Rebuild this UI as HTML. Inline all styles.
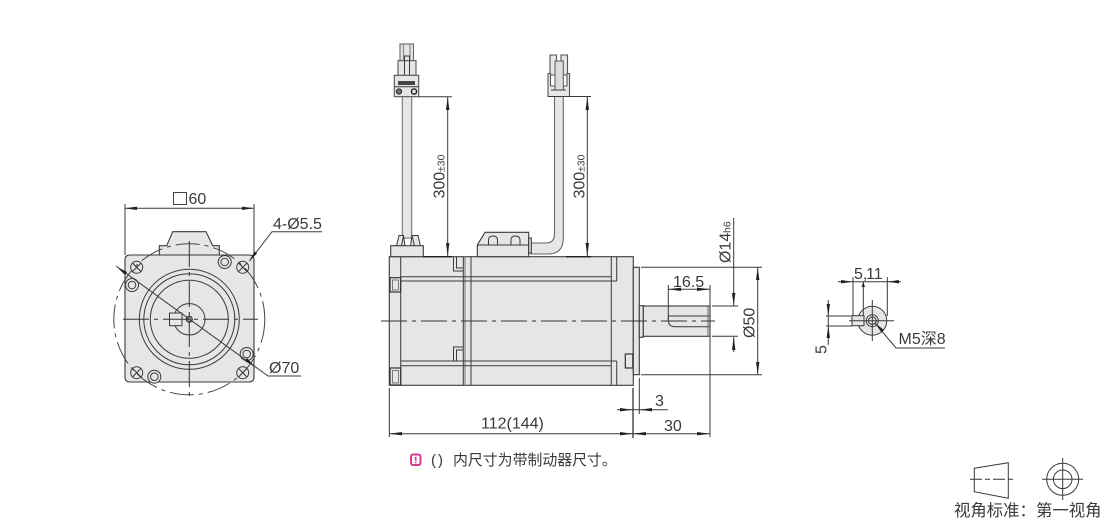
<!DOCTYPE html>
<html>
<head>
<meta charset="utf-8">
<style>
html,body{margin:0;padding:0;background:#fff;width:1110px;height:520px;overflow:hidden}
svg{display:block}
text{font-family:"Liberation Sans","Noto Sans CJK SC",sans-serif;fill:#3a3a3a;font-size:16px}
.l{stroke:#3a3a3a;stroke-width:1;fill:none}
.t{stroke:#333;stroke-width:1.2;fill:none}
.f{stroke:#3a3a3a;stroke-width:1.1;fill:#e6e6e6}
.g{stroke:#888;stroke-width:1.2;fill:none}
.c{stroke:#333;stroke-width:1;fill:none;stroke-dasharray:26 5 4 5}
.a{fill:#222;stroke:none}
.s{font-size:10.5px}
</style>
</head>
<body>
<svg width="1110" height="520" viewBox="0 0 1110 520" xmlns="http://www.w3.org/2000/svg">
<!-- FRONT VIEW -->
<path class="f" d="M159.3 256V245.7H166.7L172.7 231.7H206L212.7 245.7H219.3V256"/>
<path class="f" d="M130 255H249Q254 255 254 260V377Q254 382 249 382H130Q125 382 125 377V260Q125 255 130 255Z"/>
<circle class="l" cx="189.3" cy="319.3" r="50"/>
<circle class="l" cx="189.3" cy="319.3" r="45.5"/>
<circle class="l" cx="189.3" cy="319.3" r="39"/>
<circle class="l" cx="189.3" cy="319.3" r="15.7"/>
<rect x="169.5" y="313" width="12.5" height="12.7" fill="#e6e6e6" stroke="#3a3a3a"/>
<circle cx="189.3" cy="319.3" r="3" fill="#999" stroke="#222" stroke-width="1"/>
<circle cx="189.3" cy="319.3" r="75.5" fill="none" stroke="#444" stroke-width="1" stroke-dasharray="24 5 4 5"/>
<g class="l">
<circle cx="136.7" cy="267.3" r="6"/><path d="M132.5 263L141 271.6M141 263L132.5 271.6"/>
<circle cx="242.7" cy="267.3" r="6"/><path d="M238.5 263L247 271.6M247 263L238.5 271.6"/>
<circle cx="136.7" cy="372.7" r="6"/><path d="M132.5 368.4L141 377M141 368.4L132.5 377"/>
<circle cx="242.7" cy="372.7" r="6"/><path d="M238.5 368.4L247 377M247 368.4L238.5 377"/>
</g>
<g fill="#e6e6e6" stroke="#3a3a3a">
<circle cx="224.7" cy="262" r="6.5"/><circle cx="224.7" cy="262" r="3.8"/>
<circle cx="132" cy="285" r="6.5"/><circle cx="132" cy="285" r="3.8"/>
<circle cx="246.7" cy="354" r="6.5"/><circle cx="246.7" cy="354" r="3.8"/>
<circle cx="154.3" cy="376.7" r="6.5"/><circle cx="154.3" cy="376.7" r="3.8"/>
</g>
<path class="c" d="M123 319.3H258M189.3 241V396"/>
<path class="l" d="M125 204V255M254 204V255M125 208.3H254"/>
<path class="a" d="M125 208.3L137 206.6V210ZM254 208.3L242 206.6V210Z"/>
<rect x="173.5" y="192.5" width="13" height="12" fill="none" stroke="#444"/>
<text x="188.5" y="204">60</text>
<text x="273" y="229">4-Ø5.5</text>
<path class="l" d="M322 231.7H272L249.5 261"/>
<path class="a" d="M249 261.5L254.5 251.5L257 253.5Z"/>
<path class="l" d="M116 266L268 376H301"/>
<path class="a" d="M117 267L127 272L125 275ZM255 367L245 361L247 358Z"/>
<text x="269" y="373">Ø70</text>

<!-- SIDE VIEW -->
<rect class="f" x="389.3" y="256.7" width="244" height="128.6"/>
<rect class="f" x="633.3" y="267.3" width="6" height="107.4"/>
<rect class="f" x="639.3" y="305.7" width="4" height="31.6"/>
<rect class="f" x="643.3" y="306" width="66.7" height="30.3"/>
<path class="l" d="M400.7 256.7V385.3M463.3 256.7V385.3M471 256.7V385.3M611.3 256.7V385.3M616.7 256.7V281"/>
<path class="g" d="M465 256.7V385.3"/>
<path class="l" d="M400.7 276.7H611.3M400.7 281H616.7M400.7 361H616.7M400.7 365.7H611.3M616.7 361V385.3"/>
<path class="l" d="M453.5 257V271H463.3M456.5 257V268H463.3M453.5 361V347H463.3M456.5 361V350H463.3"/>
<rect class="t" x="390" y="277.7" width="10.7" height="14.3"/>
<rect x="392.5" y="280" width="6" height="10" fill="#e6e6e6" stroke="#777"/>
<rect class="t" x="390" y="368" width="10.7" height="17"/>
<rect x="392.5" y="370.5" width="6" height="12.5" fill="#e6e6e6" stroke="#777"/>
<rect class="t" x="625.3" y="354" width="7.5" height="14"/>
<path class="l" d="M668.3 316H710M710 326.7H675Q668.3 326.7 668.3 320V316"/>
<path d="M708 306V336.3" stroke="#666" fill="none"/>
<path class="c" d="M381 321H715"/>

<!-- Left cable -->
<rect class="f" x="402.3" y="96" width="9.4" height="142" style="stroke:#777"/>
<path d="M396.5 246L399 235.5H403.5L405 246M420.5 246L418 235.5H412L410.5 246" fill="#e6e6e6" stroke="#3a3a3a"/>
<path class="l" d="M403.5 235.5L401.5 246M412 235.5L414.5 246M396.5 246H420.5"/>
<rect class="f" x="390.7" y="245.7" width="32.6" height="11"/>
<path d="M423 256.7H452" stroke="#222" stroke-width="1.3"/>
<!-- Left connector -->
<rect class="f" x="400" y="44" width="13.5" height="17" style="stroke:#666"/>
<path class="g" d="M403.5 44V60M410 44V60"/>
<rect class="f" x="398" y="60.7" width="18" height="14.8" style="stroke:#555"/>
<path class="l" d="M404.5 75V56H409.5V75"/>
<path class="f" d="M394.3 75.3H418.7V96.7H394.3Z" style="stroke:#555"/>
<path class="l" d="M394.3 86.7H418.7"/>
<rect x="398" y="81" width="17" height="4" fill="#444"/>
<circle cx="399" cy="91.5" r="2.6" fill="#777" stroke="#222"/>
<circle cx="414" cy="91.5" r="2.6" fill="#e6e6e6" stroke="#222" stroke-width="1.4"/>
<path class="l" d="M418 96.7H452M447.7 97V256"/>
<path class="a" d="M447.7 97L446 110H449.4ZM447.7 256L446 243H449.4Z"/>
<text transform="translate(444.5 198.5) rotate(-90)">300</text>
<text transform="translate(444.5 172) rotate(-90)" class="s">±30</text>

<!-- Right cable -->
<path d="M554.5 96V234Q554.5 243 546 243H531V254H548Q563.3 254 563.3 238V96Z" fill="#e6e6e6" stroke="#666" stroke-width="1.1"/>
<path class="f" d="M477.3 245L485 232.3H528.7V245V256.7H477.3Z"/>
<path class="l" d="M477.3 245H528.7"/>
<path class="l" d="M488.5 245V240Q488.5 236 493 236Q497.5 236 497.5 240V245M511 245V240Q511 236 515.5 236Q520 236 520 240V245"/>
<rect class="f" x="528.7" y="238" width="2.6" height="15"/>
<path d="M566 256.7H591" stroke="#222" stroke-width="1.3"/>
<!-- Right connector -->
<path class="f" d="M550 55H556.5V61H561V55H567.5V75H550Z" style="stroke:#555"/>
<path class="f" d="M548 73.5H550.5V86H567V73.5H569.5V96.5H548Z" style="stroke:#555"/>
<rect x="555" y="61" width="8.3" height="29" fill="#ddd" stroke="#555"/>
<path class="l" d="M551 90H566M548 96.5H591M587.3 97V256"/>
<path class="a" d="M587.3 97L585.6 110H589ZM587.3 256L585.6 243H589Z"/>
<text transform="translate(584.5 198.5) rotate(-90)">300</text>
<text transform="translate(584.5 172) rotate(-90)" class="s">±30</text>

<!-- Dimensions side -->
<path class="l" d="M641 267.3H762M641 374.7H762M757.7 267.3V374.7"/>
<path class="a" d="M757.7 267.5L756 280H759.4ZM757.7 374.5L756 362H759.4Z"/>
<text transform="translate(754.5 338) rotate(-90)">Ø50</text>
<path class="l" d="M712 306H738M712 336.3H738M733.7 218V306M733.7 352V337"/>
<path class="a" d="M733.7 305.5L732 293H735.4ZM733.7 337L732 350H735.4Z"/>
<text transform="translate(730.5 263) rotate(-90)">Ø14</text>
<text transform="translate(730.5 233) rotate(-90)" class="s">h6</text>
<path class="l" d="M668.3 285V320M710 285V437M668.3 289.3H710"/>
<path class="a" d="M668.3 289.3L681 287.6V291ZM710 289.3L697 287.6V291Z"/>
<text x="673" y="287">16.5</text>
<path d="M633 388V438" stroke="#222" stroke-width="1.2"/>
<path class="l" d="M639.3 378V414M617 409.7H668"/>
<path class="a" d="M633 409.7L620 408V411.4ZM639.3 409.7L652 408V411.4Z"/>
<text x="655" y="406">3</text>
<path class="l" d="M389.3 388V437M389.3 433.7H710"/>
<path class="a" d="M389.3 433.7L402 432V435.4ZM633 433.7L620 432V435.4ZM633 433.7L646 432V435.4ZM710 433.7L697 432V435.4Z"/>
<text x="664" y="431">30</text>
<text x="481" y="428.5">112(144)</text>

<!-- Note -->
<rect x="411" y="454.5" width="9.5" height="10.5" rx="2" fill="#fff" stroke="#d63a8c" stroke-width="2"/>
<path d="M415.7 456.7V460.7M415.7 461.7V463.2" stroke="#d63a8c" stroke-width="1.7"/>
<text x="431" y="465" style="font-size:15px">(</text>
<text x="438" y="465" style="font-size:15px">)</text>
<text x="453" y="465" style="font-size:14.9px">内尺寸为带制动器尺寸。</text>

<!-- DETAIL VIEW -->
<circle cx="872.3" cy="320.7" r="14.5" fill="#e6e6e6" stroke="#3a3a3a"/>
<rect x="852" y="315.7" width="12" height="10" fill="#e6e6e6" stroke="#3a3a3a"/>
<circle cx="872.3" cy="320.7" r="6" fill="none" stroke="#3a3a3a"/>
<circle cx="872.3" cy="320.7" r="3.8" fill="none" stroke="#3a3a3a"/>
<path class="l" d="M849 320.7H894M872.3 300V341"/>
<path class="l" d="M853 277V316M863.3 282V316M887.3 277V316M838 281.7H901"/>
<path class="a" d="M853 281.7L841 280V283.4ZM887.3 281.7L899 280V283.4ZM863.3 281.7L865 287H861.6Z"/>
<text x="854" y="279">5,</text>
<text x="866" y="279">11</text>
<path class="l" d="M826 316H852M826 326H852M828.3 300V345"/>
<path class="a" d="M828.3 316L826.6 304H830ZM828.3 326L826.6 338H830Z"/>
<text transform="translate(826.5 354) rotate(-90)">5</text>
<path class="l" d="M875 323L896 348H945"/>
<path class="a" d="M875 323L884 330L881.5 332.5Z"/>
<text x="898.5" y="344">M5深8</text>

<!-- ANGLE SYMBOL -->
<path class="l" d="M974.3 468.3L1008.3 462.7V498.3L974.3 491.7Z"/>
<path d="M970 479.3H1013" stroke="#333" stroke-dasharray="12 3 5 3" fill="none"/>
<circle class="l" cx="1062.7" cy="479.3" r="16"/>
<circle class="l" cx="1062.7" cy="479.3" r="9.3"/>
<path class="l" d="M1042 479.3H1083M1062.7 458V500"/>
<text x="954" y="516" style="font-size:16.4px">视角标准：第一视角</text>
</svg>
</body>
</html>
